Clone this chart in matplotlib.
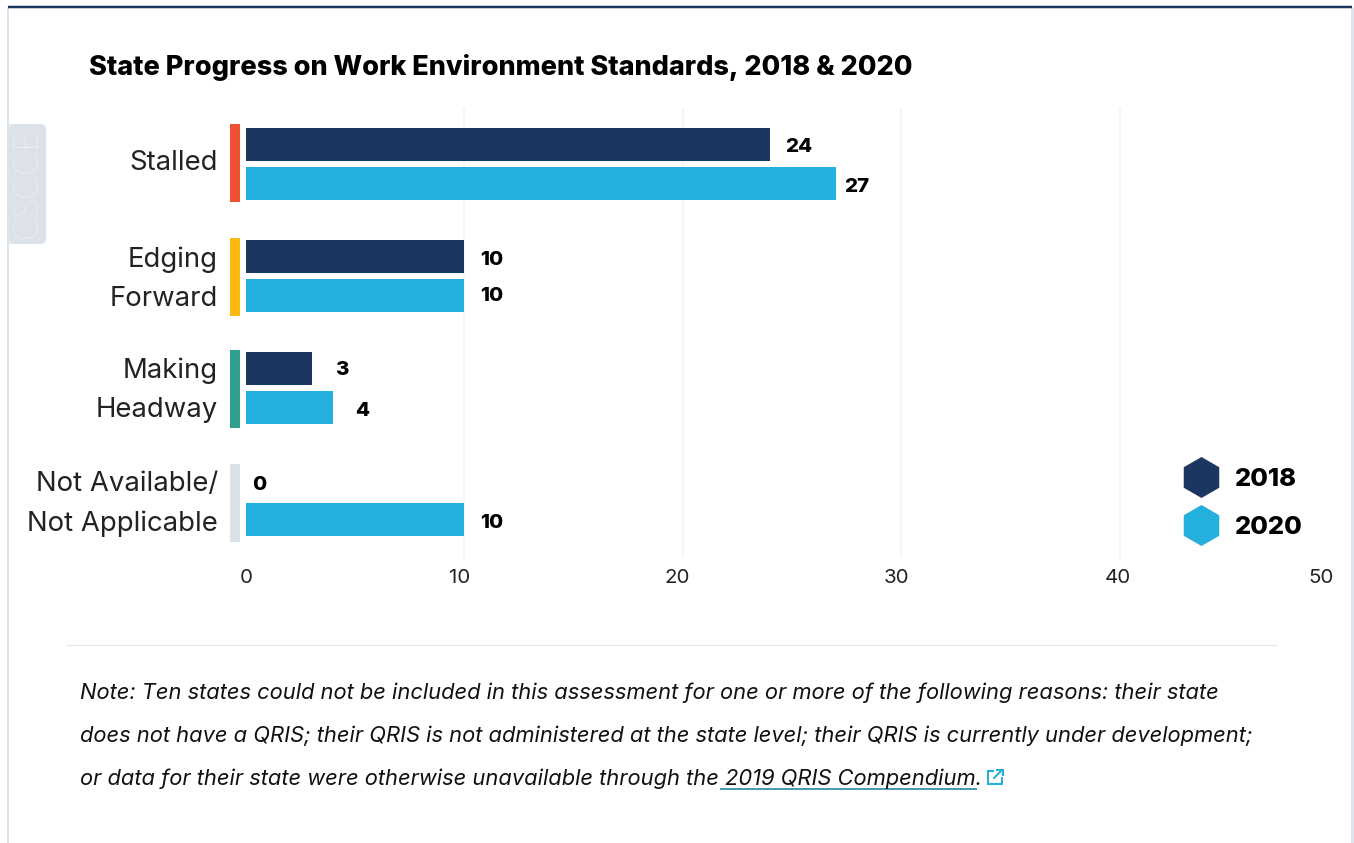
import matplotlib
matplotlib.use("Agg")
import matplotlib.pyplot as plt
from matplotlib.lines import Line2D
from matplotlib.patches import FancyBboxPatch
from matplotlib.transforms import ScaledTranslation

# ---- data ----
categories = ["Stalled", "Edging\nForward", "Making\nHeadway", "Not Available/\nNot Applicable"]
series_names = ["2018", "2020"]
values_2018 = [24, 10, 3, 0]
values_2020 = [27, 10, 4, 10]
x_ticks = [0, 10, 20, 30, 40, 50]
title = "State Progress on Work Environment Standards, 2018 & 2020"
note_lines = [
    "Note: Ten states could not be included in this assessment for one or more of the following reasons: their state",
    "does not have a QRIS; their QRIS is not administered at the state level; their QRIS is currently under development;",
    "or data for their state were otherwise unavailable through the 2019 QRIS Compendium.",
]

# ---- styling ----
W, H = 1354, 843
NAVY, SKY = "#1B365F", "#23B0DD"
strip_colors = ["#F15032", "#FDB913", "#2FA08E", "#D9E0E7"]
strip_shift_px = [-1, 1, 1, 3]
pads_2018 = [15, 16, 24, 6]
pads_2020 = [8, 16, 22, 16]
lift_2018 = [-2, -3.5, -1.5, -4]
lift_2020 = [-3, -0.5, -3, -3]
tick_shift_px = [0, -5, -6, -5, -2, -17]
label_lift_px = [3.5, 6.5, 7.5, 6]
FONT = "Inter"
px = 0.72  # one pixel in points at 100 dpi

plt.rcParams["font.family"] = [FONT, "DejaVu Sans"]
fig = plt.figure(figsize=(W / 100, H / 100), dpi=100, facecolor="white")

# page overlay in pixel coordinates
bg = fig.add_axes([0, 0, 1, 1], zorder=0)
bg.set_xlim(0, W)
bg.set_ylim(H, 0)
bg.axis("off")
bg.plot([8, 8], [7, H], color="#DCE4EE", lw=2 * px, solid_capstyle="butt")
bg.plot([1352, 1352], [7, H], color="#DCE4EE", lw=3 * px, solid_capstyle="butt")
bg.plot([8, 1352], [7, 7], color="#1B365F", lw=2.5 * px, solid_capstyle="butt")
bg.plot([66, 1277], [644.5, 644.5], color="#E4E8EE", lw=1.2 * px)

bg.add_patch(FancyBboxPatch((10, 127), 33, 114, boxstyle="round,pad=3,rounding_size=6",
                            fc="#DDE1E8", ec="none"))
bg.text(27, 183, "CSCCE", rotation=90, color="white", fontsize=35 * px,
        fontweight=200, ha="center", va="center", family=["Lato", "DejaVu Sans"])

bg.text(89, 67.5, title, fontsize=27.1 * px, fontweight="heavy", color="black", va="center", ha="left")

for yy, line in zip([693, 736, 779], note_lines):
    bg.text(80, yy, line, fontsize=21.9 * px, style="italic", color="#111111", va="center", ha="left",
            family=["Inter", "DejaVu Sans"])
bg.plot([720, 977], [789, 789], color="#4A9ABA", lw=2 * px, solid_capstyle="butt")
# external link icon
bg.plot([993, 988, 988, 1002, 1002], [771, 771, 784, 784, 778], color=SKY, lw=2 * px, solid_joinstyle="miter")
bg.plot([994, 1002], [778, 770], color=SKY, lw=2 * px)
bg.plot([997, 1002.5, 1002.5], [770, 770, 775], color=SKY, lw=2 * px, solid_joinstyle="miter")

# ---- chart ----
left, right, top, bottom = 246, 1338, 108, 558
ax = fig.add_axes([left / W, 1 - bottom / H, (right - left) / W, (bottom - top) / H], zorder=2)
ax.patch.set_alpha(0)
group_px = 112
ax.set_xlim(0, 50)
ax.set_ylim((bottom - 164) / group_px, (top - 164) / group_px)
for s in ax.spines.values():
    s.set_visible(False)

ypos = list(range(len(categories)))
bar_h = 33 / group_px
off = 19.5 / group_px
y18 = [y - off for y in ypos]
y20 = [y + off for y in ypos]
ax.barh(y18, values_2018, height=bar_h, color=NAVY, zorder=3)
ax.barh(y20, values_2020, height=bar_h, color=SKY, zorder=3)

# coloured strip beside each category
unit = (right - left) / 50
ax.barh([y + s / group_px for y, s in zip(ypos, strip_shift_px)], [10 / unit] * 4,
        left=-16 / unit, height=78 / group_px, color=strip_colors, clip_on=False, zorder=3)

for ys, vals, pads, lifts in ((y18, values_2018, pads_2018, lift_2018), (y20, values_2020, pads_2020, lift_2020)):
    for y, v, p, l in zip(ys, vals, pads, lifts):
        ax.annotate(str(v), (v, y), xytext=(p * px, l * px), textcoords="offset points",
                    fontsize=20.5 * px, fontweight="heavy", color="black", va="center", ha="left", zorder=4)

ax.set_xticks(x_ticks)
ax.set_xticklabels([str(t) for t in x_ticks], fontsize=20.5 * px, color="#222222")
ax.tick_params(axis="x", length=0, pad=11 * px)
ax.grid(axis="x", color="#F1F2F4", lw=1.5 * px, zorder=0)
ax.set_axisbelow(True)
gl = ax.get_xgridlines()
gl[0].set_visible(False)
gl[-1].set_visible(False)
for lab, s in zip(ax.get_xticklabels(), tick_shift_px):
    lab.set_transform(lab.get_transform() + ScaledTranslation(s / 100, 0, fig.dpi_scale_trans))

ax.set_yticks(ypos)
ax.set_yticklabels(categories, fontsize=27.5 * px, color="#222222", linespacing=1.65, ha="right")
ax.tick_params(axis="y", length=0, pad=28 * px)
for lab, s in zip(ax.get_yticklabels(), label_lift_px):
    lab.set_transform(lab.get_transform() + ScaledTranslation(0, s / 100, fig.dpi_scale_trans))

handles = [Line2D([], [], ls="none", marker="h", markersize=41 * px, color=c, markeredgewidth=0)
           for c in (NAVY, SKY)]
leg = ax.legend(handles, series_names, loc="upper left", bbox_to_anchor=(1167 / W, 1 - 455 / H),
                bbox_transform=fig.transFigure, frameon=False, labelspacing=1.0, handletextpad=0.55,
                borderpad=0, handlelength=1.63, prop={"size": 25.5 * px, "weight": "heavy"})

fig.savefig("out.png", dpi=100, facecolor="white")
